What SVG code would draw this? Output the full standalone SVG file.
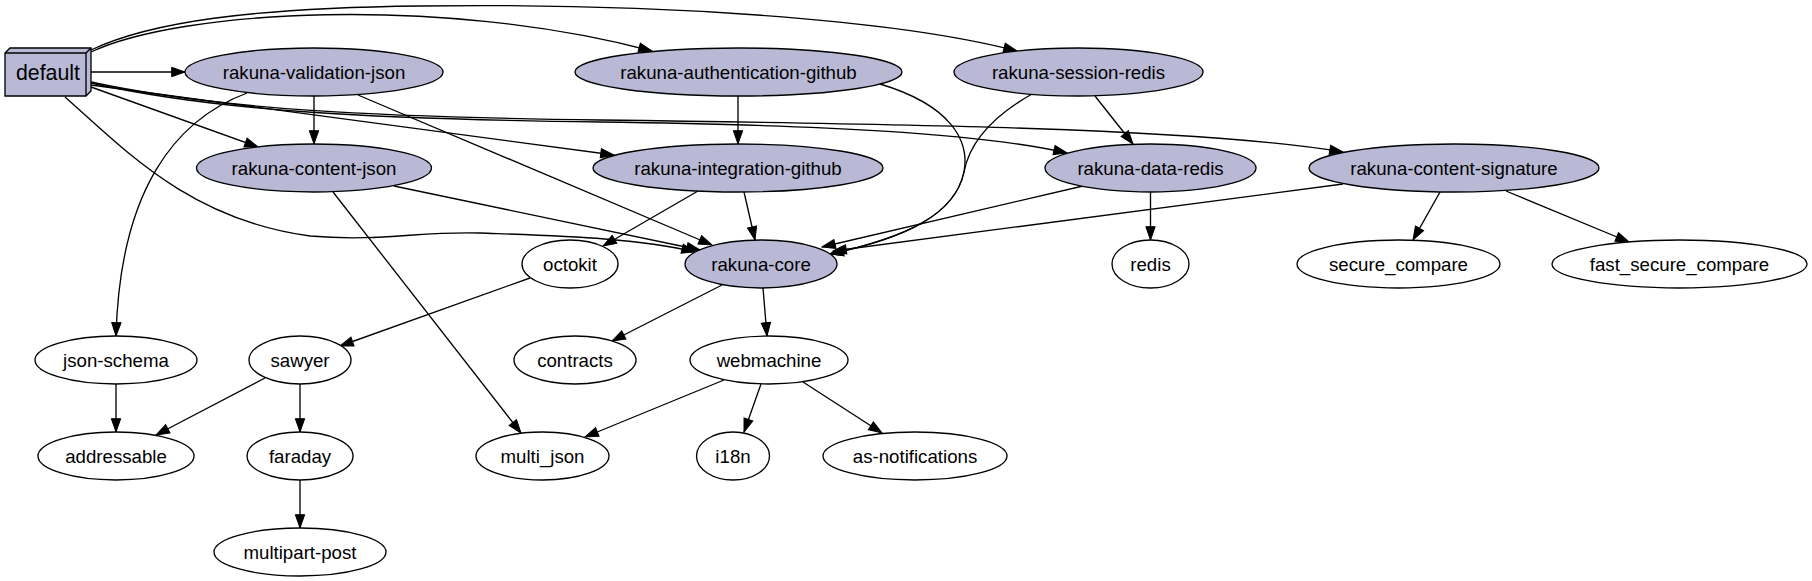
<svg xmlns="http://www.w3.org/2000/svg" width="1812" height="581" viewBox="0 0 1812 581">
<style>
.n ellipse{stroke:#000;stroke-width:1.33}
.g ellipse,.g polygon{fill:#b9b9d5}
.w ellipse{fill:#fff}
text{font-family:"Liberation Sans",Arial,sans-serif;font-size:18.67px;text-anchor:middle;fill:#000}
#edges path{fill:none;stroke:#000;stroke-width:1.33;marker-end:url(#ah)}
</style>
<defs>
<marker id="ah" markerWidth="16" markerHeight="12" refX="13.3" refY="4.67" orient="auto" markerUnits="userSpaceOnUse" overflow="visible">
<path d="M0,0 L13.3,4.67 L0,9.33 Z" fill="#000" stroke="#000" stroke-width="1"/>
</marker>
</defs>
<rect width="1812" height="581" fill="#fff"/>
<g id="edges">
<path d="M91,72 L185,72"/>
<path d="M91,52 C180,10 440,-5 652,51"/>
<path d="M91,50 C150,22 250,8 420,6 C650,3 890,18 1017,51"/>
<path d="M91,87 L258,147"/>
<path d="M91,85 L614,155"/>
<path d="M91,83 C220,112 380,119 600,122 C820,125 980,133 1067,153"/>
<path d="M91,82 C220,110 380,117 600,120 C900,124 1200,128 1343,152"/>
<path d="M65,97 C125,150 190,220 310,236 C380,242 420,231 480,233 C560,236 640,238 695,252"/>
<path d="M314,96 L314,144"/>
<path d="M247,93 C175,120 120,190 116,336"/>
<path d="M358,95 L712,245"/>
<path d="M738,96 L738,144"/>
<path d="M880,84 C950,105 970,140 964,172 C955,215 905,238 830,254"/>
<path d="M1095,96 L1133,144"/>
<path d="M1032,94 C995,115 970,140 964,172 C955,215 905,238 830,254"/>
<path d="M698,191 L603,246"/>
<path d="M744,192 L755,240"/>
<path d="M394,186 L700,250"/>
<path d="M333,192 L521,433"/>
<path d="M1083,186 L822,247"/>
<path d="M1150.5,192 L1150.5,240"/>
<path d="M1343,184 L833,251"/>
<path d="M1440,192 L1413,240"/>
<path d="M1506,191 L1629,242"/>
<path d="M530,278 L340,346"/>
<path d="M722,285 L612,341"/>
<path d="M763,288 L767,336"/>
<path d="M116,384 L116,432"/>
<path d="M265,378 L156,435"/>
<path d="M300,384 L300,432"/>
<path d="M724,380 L585,437"/>
<path d="M761,384 L744,432"/>
<path d="M803,382 L882,433"/>
<path d="M300,480 L300,528"/>
</g>
<g id="default" class="n g">
<polygon points="5,53 10,48 91,48 91,91 86,96 5,96" stroke="#000" stroke-width="1.33"/>
<polyline points="5,53 86,53 86,96" fill="none" stroke="#000" stroke-width="1.33"/>
<line x1="86" y1="53" x2="91" y2="48" stroke="#000" stroke-width="1.33"/>
<text x="48" y="79.5" style="font-size:21.33px">default</text>
</g>
<g id="rakuna-validation-json" class="n g"><ellipse cx="314" cy="72" rx="129" ry="24"/><text x="314" y="78.5">rakuna-validation-json</text></g>
<g id="rakuna-authentication-github" class="n g"><ellipse cx="738.5" cy="72" rx="163.5" ry="24"/><text x="738.5" y="78.5">rakuna-authentication-github</text></g>
<g id="rakuna-session-redis" class="n g"><ellipse cx="1078.5" cy="72" rx="124.5" ry="24"/><text x="1078.5" y="78.5">rakuna-session-redis</text></g>
<g id="rakuna-content-json" class="n g"><ellipse cx="314" cy="168" rx="117.5" ry="24"/><text x="314" y="174.5">rakuna-content-json</text></g>
<g id="rakuna-integration-github" class="n g"><ellipse cx="738" cy="168" rx="145" ry="24"/><text x="738" y="174.5">rakuna-integration-github</text></g>
<g id="rakuna-data-redis" class="n g"><ellipse cx="1150.5" cy="168" rx="105.5" ry="24"/><text x="1150.5" y="174.5">rakuna-data-redis</text></g>
<g id="rakuna-content-signature" class="n g"><ellipse cx="1454" cy="168" rx="145" ry="24"/><text x="1454" y="174.5">rakuna-content-signature</text></g>
<g id="octokit" class="n w"><ellipse cx="570" cy="264" rx="48" ry="24"/><text x="570" y="270.5">octokit</text></g>
<g id="rakuna-core" class="n g"><ellipse cx="761" cy="264" rx="76" ry="24"/><text x="761" y="270.5">rakuna-core</text></g>
<g id="redis" class="n w"><ellipse cx="1150.5" cy="264" rx="38.5" ry="24"/><text x="1150.5" y="270.5">redis</text></g>
<g id="secure_compare" class="n w"><ellipse cx="1398.5" cy="264" rx="101.5" ry="24"/><text x="1398.5" y="270.5">secure_compare</text></g>
<g id="fast_secure_compare" class="n w"><ellipse cx="1679.5" cy="264" rx="127.5" ry="24"/><text x="1679.5" y="270.5">fast_secure_compare</text></g>
<g id="json-schema" class="n w"><ellipse cx="116" cy="360" rx="81" ry="24"/><text x="116" y="366.5">json-schema</text></g>
<g id="sawyer" class="n w"><ellipse cx="300" cy="360" rx="51" ry="24"/><text x="300" y="366.5">sawyer</text></g>
<g id="contracts" class="n w"><ellipse cx="575" cy="360" rx="61" ry="24"/><text x="575" y="366.5">contracts</text></g>
<g id="webmachine" class="n w"><ellipse cx="769" cy="360" rx="79" ry="24"/><text x="769" y="366.5">webmachine</text></g>
<g id="addressable" class="n w"><ellipse cx="116" cy="456" rx="78" ry="24"/><text x="116" y="462.5">addressable</text></g>
<g id="faraday" class="n w"><ellipse cx="300" cy="456" rx="53" ry="24"/><text x="300" y="462.5">faraday</text></g>
<g id="multi_json" class="n w"><ellipse cx="542.5" cy="456" rx="66.5" ry="24"/><text x="542.5" y="462.5">multi_json</text></g>
<g id="i18n" class="n w"><ellipse cx="733" cy="456" rx="36.5" ry="24"/><text x="733" y="462.5">i18n</text></g>
<g id="as-notifications" class="n w"><ellipse cx="915" cy="456" rx="92" ry="24"/><text x="915" y="462.5">as-notifications</text></g>
<g id="multipart-post" class="n w"><ellipse cx="300" cy="552" rx="86" ry="24"/><text x="300" y="558.5">multipart-post</text></g>
</svg>
